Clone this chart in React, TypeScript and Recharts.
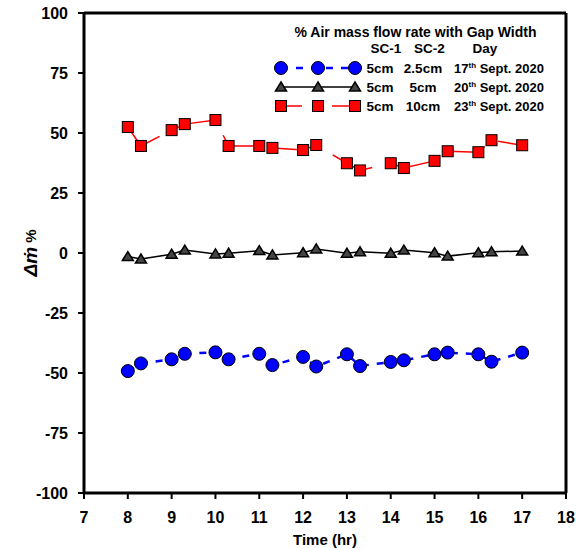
import { LineChart, Line, XAxis, YAxis, ReferenceLine, Legend } from 'recharts';

const hours = [8, 8.3, 9, 9.3, 10, 10.3, 11, 11.3, 12, 12.3, 13, 13.3, 14, 14.3, 15, 15.3, 16, 16.3, 17];
// SC-2 gap widths: 2.5cm (17 Sept), 5cm (20 Sept), 10cm (23 Sept)
const gap25 = [-49.2, -46, -44.3, -42, -41.4, -44.3, -42, -46.7, -43.3, -47.3, -42.2, -47.1, -45.4, -44.7, -42.2, -41.5, -42.2, -45.3, -41.5];
const gap5 = [-1.5, -2.5, -0.5, 1.2, -0.4, -0.1, 1, -0.8, 0.1, 1.7, -0.1, 0.5, -0.1, 1.2, 0.1, -1.3, 0.1, 0.5, 0.8];
const gap10 = [52.5, 44.6, 51.2, 53.7, 55.4, 44.6, 44.6, 43.8, 42.9, 45, 37.4, 34.4, 37.4, 35.4, 38.4, 42.4, 42, 47, 44.9];

const xTicks = [7, 8, 9, 10, 11, 12, 13, 14, 15, 16, 17, 18];
const yTicks = [-100, -75, -50, -25, 0, 25, 50, 75, 100];

const data = hours.map((t, i) => ({ t, gap25: gap25[i], gap5: gap5[i], gap10: gap10[i] }));

const FONT = '"Liberation Sans", Arial, sans-serif';
const tickStyle = { fontFamily: FONT, fontSize: 16, fontWeight: 700, fill: '#000' };

const circleMark = (cx: number, cy: number, key?: string) => (
  <circle key={key} cx={cx} cy={cy} r={6.5} fill="#0000ff" stroke="#000" strokeWidth={1} />
);
const triangleMark = (cx: number, cy: number, key?: string) => (
  <path
    key={key}
    d={`M${cx},${cy - 5} L${cx + 5.5},${cy + 4} L${cx - 5.5},${cy + 4} Z`}
    fill="#444"
    stroke="#000"
    strokeWidth={1.5}
  />
);
const squareMark = (cx: number, cy: number, key?: string) => (
  <rect key={key} x={cx - 5.5} y={cy - 5.5} width={11} height={11} fill="#ff0000" stroke="#000" strokeWidth={1} />
);

const renderLegend = () => {
  const txt = { fontFamily: FONT, fontSize: 13.5, fontWeight: 700, fill: '#000' };
  const mx = [281, 318, 355];
  const rows = [
    { y: 68, a: '5cm', b: '2.5cm', d: '17' },
    { y: 87, a: '5cm', b: '5cm', d: '20' },
    { y: 106, a: '5cm', b: '10cm', d: '23' },
  ];
  return (
    <div style={{ height: 0, position: 'relative' }}>
      <svg width={576} height={120} style={{ position: 'absolute', left: 0, top: 0, overflow: 'visible' }}>
        <text x={415.5} y={37} textAnchor="middle" {...txt} fontSize={14}>% Air mass flow rate with Gap Width</text>
        <text x={386} y={52.5} textAnchor="middle" {...txt}>SC-1</text>
        <text x={429.5} y={52.5} textAnchor="middle" {...txt}>SC-2</text>
        <text x={485} y={52.5} textAnchor="middle" {...txt}>Day</text>
        <line x1={281} x2={355} y1={68} y2={68} stroke="#0000ff" strokeWidth={2.5} strokeDasharray="7 8" />
        <line x1={281} x2={355} y1={87} y2={87} stroke="#000" strokeWidth={1.5} />
        <line x1={281} x2={355} y1={106} y2={106} stroke="#ff0000" strokeWidth={1.5} strokeDasharray="21 30" />
        {mx.map((x, i) => circleMark(x, 68, `lc${i}`))}
        {mx.map((x, i) => triangleMark(x, 87, `lt${i}`))}
        {mx.map((x, i) => squareMark(x, 106, `ls${i}`))}
        {rows.map((r) => (
          <g key={r.d}>
            <text x={380} y={r.y + 5} textAnchor="middle" {...txt}>{r.a}</text>
            <text x={423} y={r.y + 5} textAnchor="middle" {...txt}>{r.b}</text>
            <text x={454} y={r.y + 5} {...txt} fontSize={13}>
              {r.d}
              <tspan fontSize={8} dy={-5}>th</tspan>
              <tspan dy={5}> Sept. 2020</tspan>
            </text>
          </g>
        ))}
      </svg>
    </div>
  );
};

const YLabel = (props: any) => {
  const { viewBox } = props;
  const x = viewBox.x + 30;
  const y = viewBox.y + viewBox.height / 2;
  return (
    <text
      x={x}
      y={y}
      transform={`rotate(-90, ${x}, ${y})`}
      textAnchor="middle"
      dominantBaseline="central"
      fontFamily={FONT}
      fontSize={19}
      fontWeight={700}
      fill="#000"
    >
      <tspan fontStyle="italic">{'\u0394m\u0307'}</tspan>
      <tspan fontSize={15}> %</tspan>
    </text>
  );
};

const XLabel = (props: any) => {
  const { viewBox } = props;
  return (
    <text
      x={viewBox.x + viewBox.width / 2}
      y={545}
      textAnchor="middle"
      fontFamily={FONT}
      fontSize={15}
      fontWeight={700}
      fill="#000"
    >
      Time (hr)
    </text>
  );
};

export default function App() {
  return (
    <div style={{ position: 'absolute', left: 0, top: 0, background: '#fff' }}>
      <LineChart width={576} height={548} data={data} margin={{ top: 13, right: 10, bottom: 0, left: 0 }}>
        <XAxis
          dataKey="t"
          type="number"
          domain={[7, 18]}
          ticks={xTicks}
          interval={0}
          height={55}
          tickSize={6}
          tickMargin={13}
          axisLine={{ stroke: '#000', strokeWidth: 3 }}
          tickLine={{ stroke: '#000', strokeWidth: 2 }}
          tick={tickStyle}
          label={<XLabel />}
        />
        <YAxis
          type="number"
          domain={[-100, 100]}
          ticks={yTicks}
          interval={0}
          width={84}
          tickSize={6}
          tickMargin={10}
          axisLine={{ stroke: '#000', strokeWidth: 3 }}
          tickLine={{ stroke: '#000', strokeWidth: 2 }}
          tick={tickStyle}
          label={<YLabel />}
        />
        <ReferenceLine y={100} stroke="#000" strokeWidth={3} />
        <ReferenceLine x={18} stroke="#000" strokeWidth={3} />
        <Legend content={renderLegend} wrapperStyle={{ left: 0, top: 0, width: 576, height: 0 }} />
        <Line
          dataKey="gap10"
          stroke="#ff0000"
          strokeWidth={1.5}
          strokeDasharray="44 16"
          isAnimationActive={false}
          dot={(p: any) => squareMark(p.cx, p.cy, `sq${p.index}`)}
        />
        <Line
          dataKey="gap5"
          stroke="#000"
          strokeWidth={1.5}
          isAnimationActive={false}
          dot={(p: any) => triangleMark(p.cx, p.cy, `tr${p.index}`)}
        />
        <Line
          dataKey="gap25"
          stroke="#0000ff"
          strokeWidth={2.5}
          strokeDasharray="7 8"
          isAnimationActive={false}
          dot={(p: any) => circleMark(p.cx, p.cy, `ci${p.index}`)}
        />
      </LineChart>
    </div>
  );
}
